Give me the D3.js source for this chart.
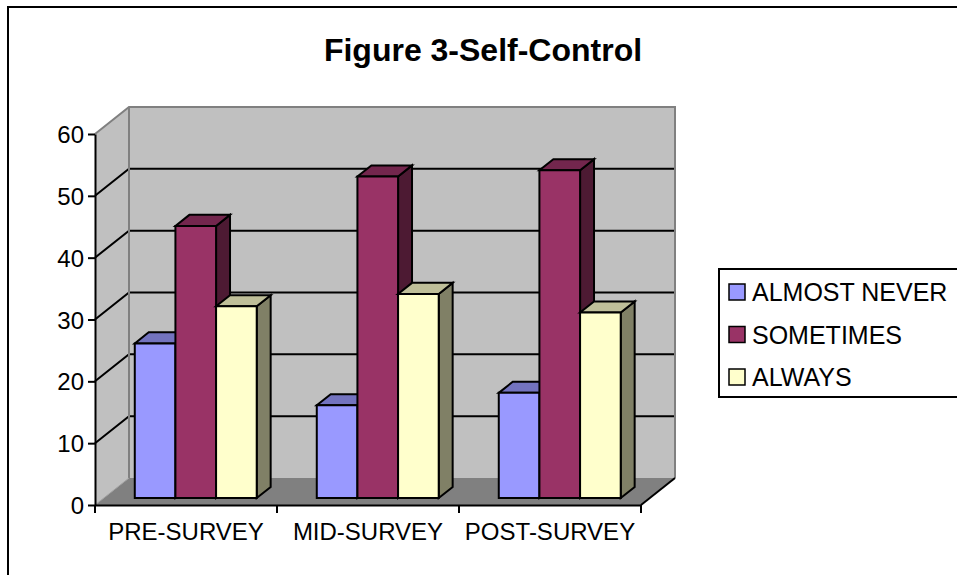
<!DOCTYPE html>
<html>
<head>
<meta charset="utf-8">
<script src="https://cdn.jsdelivr.net/npm/d3@7"></script>
<style>
  html, body { margin: 0; padding: 0; background: #fff; }
  svg { display: block; font-family: "Liberation Sans", Arial, sans-serif; }
</style>
</head>
<body>
<svg id="chart" width="957" height="575"></svg>
<script>
// ---------- data ----------
const title = "Figure 3-Self-Control";
const categories = ["PRE-SURVEY", "MID-SURVEY", "POST-SURVEY"];
const seriesNames = ["ALMOST NEVER", "SOMETIMES", "ALWAYS"];
const almostNever = [25, 15, 17];
const sometimes = [44, 52, 53];
const always = [31, 33, 30];
const yTicks = [0, 10, 20, 30, 40, 50, 60];

// ---------- styles ----------
const frontColors = ["#9999ff", "#993366", "#ffffcc"];
const topColors = ["#7373bf", "#73264d", "#bfbf99"];
const sideColors = ["#4d4d80", "#4d1a33", "#808066"];

const seriesValues = [almostNever, sometimes, always];

const svg = d3.select("#chart");

// outer chart border
svg.append("rect").attr("x", 8).attr("y", 7).attr("width", 1000).attr("height", 600)
  .attr("fill", "#fff").attr("stroke", "#000").attr("stroke-width", 2);

// scales
const x0 = d3.scaleBand().domain(categories).range([95, 641]).padding(0);
const bw = x0.bandwidth();
const x1 = d3.scaleBand().domain(seriesNames).range([bw * 0.17, bw * 0.84]).padding(0);
const y = d3.scaleLinear().domain([0, 60]).range([505, 134]);

// oblique depth
const DX = 34, DY = 27;
const P = (x, yy, f) => [x + f * DX, yy - f * DY];
const poly = pts => pts.map(p => p.join(",")).join(" ");

const xL = x0.range()[0], xR = x0.range()[1];
const y0 = y(0), yTop = y(60);

// side wall
svg.append("polygon")
  .attr("points", poly([P(xL, y0, 0), P(xL, y0, 1), P(xL, yTop, 1), P(xL, yTop, 0)]))
  .attr("fill", "#c0c0c0").attr("stroke", "none");
// back wall
svg.append("polygon")
  .attr("points", poly([P(xL, y0, 1), P(xR, y0, 1), P(xR, yTop, 1), P(xL, yTop, 1)]))
  .attr("fill", "#c0c0c0").attr("stroke", "none");
// floor
svg.append("polygon")
  .attr("points", poly([P(xL, y0, 0), P(xR, y0, 0), P(xR, y0, 1), P(xL, y0, 1)]))
  .attr("fill", "#808080").attr("stroke", "none");

// gridlines (black)
const grid = svg.append("g").attr("stroke", "#000").attr("stroke-width", 2).attr("fill", "none");
yTicks.filter(t => t > 0 && t < 60).forEach(t => {
  grid.append("polyline")
    .attr("points", poly([P(xL, y(t), 0), P(xL, y(t), 1), P(xR, y(t), 1)]));
});

// wall edges (gray)
const edges = svg.append("g").attr("stroke", "#808080").attr("stroke-width", 2).attr("fill", "none");
edges.append("polyline").attr("points", poly([P(xL, yTop, 0), P(xL, yTop, 1), P(xR, yTop, 1), P(xR, y0, 1)]));
edges.append("polyline").attr("points", poly([P(xL, yTop, 1), P(xL, y0, 1)]));
edges.append("polyline").attr("points", poly([P(xL, y0, 0), P(xL, y0, 1)])).attr("stroke", "#a0a0a0").attr("stroke-width", 1);
// floor right edge (black)
svg.append("polyline").attr("points", poly([P(xR, y0, 0), P(xR, y0, 1)]))
  .attr("stroke", "#000").attr("stroke-width", 2).attr("fill", "none");

// bars
const F1 = 0.26, F2 = 0.67;
const barsG = svg.append("g").attr("stroke", "#000").attr("stroke-width", 2).attr("stroke-linejoin", "miter");
categories.forEach((cat, ci) => {
  seriesNames.forEach((s, si) => {
    const v = seriesValues[si][ci];
    const xl = x0(cat) + x1(s);
    const xr = xl + x1.bandwidth();
    const yb = y(0), yt = y(v);
    const g = barsG.append("g");
    g.append("polygon").attr("points", poly([P(xr, yb, F1), P(xr, yb, F2), P(xr, yt, F2), P(xr, yt, F1)]))
      .attr("fill", sideColors[si]);
    g.append("polygon").attr("points", poly([P(xl, yt, F1), P(xr, yt, F1), P(xr, yt, F2), P(xl, yt, F2)]))
      .attr("fill", topColors[si]);
    g.append("polygon").attr("points", poly([P(xl, yb, F1), P(xr, yb, F1), P(xr, yt, F1), P(xl, yt, F1)]))
      .attr("fill", frontColors[si]);
  });
});

// y axis
const yAxis = svg.append("g").attr("transform", `translate(${xL},0)`)
  .call(d3.axisLeft(y).tickValues(yTicks).tickSize(7).tickSizeOuter(0).tickPadding(4));
yAxis.select(".domain").attr("stroke", "#000").attr("stroke-width", 2);
yAxis.selectAll(".tick line").attr("stroke", "#000").attr("stroke-width", 2);
yAxis.selectAll(".tick text").attr("font-size", 24).attr("fill", "#000")
  .attr("font-family", "'Liberation Sans', Arial, sans-serif").attr("dy", "0.36em");

// x axis
const xAxis = svg.append("g").attr("transform", `translate(0,${y0})`)
  .call(d3.axisBottom(x0).tickSize(0).tickSizeOuter(0).tickPadding(18));
xAxis.select(".domain").attr("stroke", "#000").attr("stroke-width", 2);
xAxis.selectAll(".tick text").attr("font-size", 24).attr("fill", "#000")
  .attr("font-family", "'Liberation Sans', Arial, sans-serif");
// boundary tick marks
const bounds = categories.map(c => x0(c)).concat([x0(categories[categories.length - 1]) + bw]);
xAxis.selectAll("line.bound").data(bounds).enter().append("line").attr("class", "bound")
  .attr("x1", d => d).attr("x2", d => d).attr("y1", 0).attr("y2", 8)
  .attr("stroke", "#000").attr("stroke-width", 2);

// title
svg.append("text").attr("x", 483).attr("y", 61).attr("text-anchor", "middle")
  .attr("font-size", 32).attr("font-weight", "bold").attr("fill", "#000").text(title);

// legend
const leg = svg.append("g");
leg.append("rect").attr("x", 719).attr("y", 269).attr("width", 320).attr("height", 128)
  .attr("fill", "#fff").attr("stroke", "#000").attr("stroke-width", 2);
const ly = d3.scalePoint().domain(seriesNames).range([292, 377]);
seriesNames.forEach((s, i) => {
  leg.append("rect").attr("x", 729).attr("y", ly(s) - 8).attr("width", 16).attr("height", 16)
    .attr("fill", frontColors[i]).attr("stroke", "#000").attr("stroke-width", 1.5);
  leg.append("text").attr("x", 752).attr("y", ly(s) + 9).attr("font-size", 25)
    .attr("fill", "#000").text(s);
});
</script>
</body>
</html>
